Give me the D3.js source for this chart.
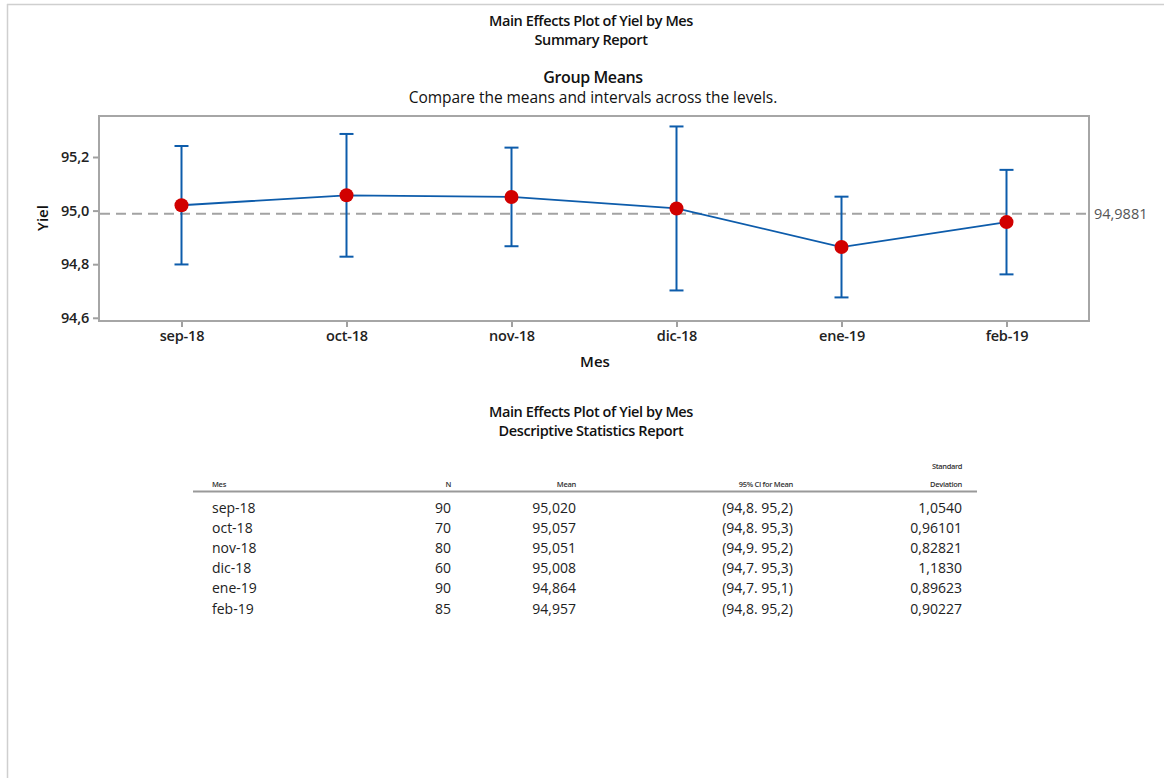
<!DOCTYPE html>
<html>
<head>
<meta charset="utf-8">
<script src="https://cdn.jsdelivr.net/npm/d3@7"></script>
<style>
  html, body { margin: 0; padding: 0; background: #fff; }
  svg { display: block; font-family: "Open Sans", "Noto Sans", sans-serif; }
</style>
</head>
<body>
<svg id="chart" width="1164" height="778"></svg>
<script>
// Months (factor levels) and per-level statistics
const months = ["sep-18", "oct-18", "nov-18", "dic-18", "ene-19", "feb-19"];
const counts = [90, 70, 80, 60, 90, 85];
const means = [95.020, 95.057, 95.051, 95.008, 94.864, 94.957];
const ciLow = [94.799, 94.828, 94.867, 94.702, 94.676, 94.762];
const ciHigh = [95.241, 95.286, 95.235, 95.314, 95.052, 95.152];
const ciText = ["(94,8. 95,2)", "(94,8. 95,3)", "(94,9. 95,2)", "(94,7. 95,3)", "(94,7. 95,1)", "(94,8. 95,2)"];
const stdDevText = ["1,0540", "0,96101", "0,82821", "1,1830", "0,89623", "0,90227"];
const meanText = ["95,020", "95,057", "95,051", "95,008", "94,864", "94,957"];
const grandMean = 94.9881;
const grandMeanText = "94,9881";
const yTicks = [94.6, 94.8, 95.0, 95.2];

const svg = d3.select("#chart");
const comma = v => d3.format(".1f")(v).replace(".", ",");

// Page border (left and top)
svg.append("line").attr("x1", 7.5).attr("x2", 7.5).attr("y1", 4).attr("y2", 778)
  .attr("stroke", "#cfcfcf").attr("stroke-width", 1.5);
svg.append("line").attr("x1", 7).attr("x2", 1164).attr("y1", 4.5).attr("y2", 4.5)
  .attr("stroke", "#cfcfcf").attr("stroke-width", 1.5);

// Text helper
function text(x, y, s, size, weight, anchor, fill) {
  return svg.append("text").attr("x", x).attr("y", y).attr("font-size", size)
    .attr("font-weight", weight).attr("text-anchor", anchor || "middle")
    .attr("dominant-baseline", "central").attr("fill", fill || "#111").text(s);
}

// Report titles
text(591, 20, "Main Effects Plot of Yiel by Mes", 14.5, 600).attr("letter-spacing", -0.4);
text(591, 39, "Summary Report", 14.5, 600).attr("letter-spacing", -0.4);
text(593, 77, "Group Means", 16, 600).attr("letter-spacing", -0.4);
text(593, 97, "Compare the means and intervals across the levels.", 15.5, 400).attr("letter-spacing", -0.05);

// Plot area
const plot = { left: 99, right: 1089, top: 116, bottom: 321 };
const x = d3.scalePoint().domain(months).range([plot.left, plot.right]).padding(0.5);
const y = d3.scaleLinear().domain([94.588, 95.353]).range([plot.bottom, plot.top]);

// Axes
const yAxis = svg.append("g").attr("transform", `translate(${plot.left},0)`)
  .call(d3.axisLeft(y).tickValues(yTicks).tickFormat(comma).tickSize(6).tickPadding(4));
const xAxis = svg.append("g").attr("transform", `translate(0,${plot.bottom})`)
  .call(d3.axisBottom(x).tickSize(6).tickPadding(4));
[yAxis, xAxis].forEach(g => {
  g.select(".domain").remove();
  g.selectAll(".tick line").attr("stroke", "#a0a0a0").attr("stroke-width", 2);
  g.selectAll(".tick text").attr("fill", "#222").attr("font-size", 14.5)
    .attr("font-weight", 600).attr("font-family", "\"Open Sans\", sans-serif")
    .attr("letter-spacing", -0.2);
});

// Frame
svg.append("rect").attr("x", plot.left).attr("y", plot.top)
  .attr("width", plot.right - plot.left).attr("height", plot.bottom - plot.top)
  .attr("fill", "none").attr("stroke", "#a6a6a6").attr("stroke-width", 2);

// Axis titles
text(595, 361, "Mes", 15, 600);
svg.append("text").attr("transform", `translate(42,218) rotate(-90)`)
  .attr("text-anchor", "middle").attr("dominant-baseline", "central")
  .attr("font-size", 15).attr("font-weight", 600).attr("fill", "#111").text("Yiel");

// Grand mean reference line
svg.append("line").attr("x1", plot.left + 1).attr("x2", plot.right - 1)
  .attr("y1", y(grandMean)).attr("y2", y(grandMean))
  .attr("stroke", "#a3a3a3").attr("stroke-width", 2).attr("stroke-dasharray", "10,6");
text(plot.right + 5, y(grandMean), grandMeanText, 14.5, 400, "start", "#555");

// Confidence intervals
const blue = "#0d5cab";
const cap = 7;
months.forEach((m, i) => {
  const cx = x(m);
  svg.append("line").attr("x1", cx).attr("x2", cx).attr("y1", y(ciLow[i])).attr("y2", y(ciHigh[i]))
    .attr("stroke", blue).attr("stroke-width", 2);
  [ciLow[i], ciHigh[i]].forEach(v => {
    svg.append("line").attr("x1", cx - cap).attr("x2", cx + cap).attr("y1", y(v)).attr("y2", y(v))
      .attr("stroke", blue).attr("stroke-width", 2);
  });
});

// Mean connecting line and points
svg.append("path").datum(means)
  .attr("d", d3.line().x((d, i) => x(months[i])).y(d => y(d)))
  .attr("fill", "none").attr("stroke", blue).attr("stroke-width", 1.8);
svg.selectAll("circle.mean").data(means).join("circle").attr("class", "mean")
  .attr("cx", (d, i) => x(months[i])).attr("cy", d => y(d)).attr("r", 7)
  .attr("fill", "#d10000");

// Descriptive statistics report
text(591, 411, "Main Effects Plot of Yiel by Mes", 14.5, 600).attr("letter-spacing", -0.4);
text(591, 430, "Descriptive Statistics Report", 14.5, 600).attr("letter-spacing", -0.4);

const cols = [
  { x: 212, anchor: "start", head: "Mes", vals: months },
  { x: 451, anchor: "end", head: "N", vals: counts.map(String) },
  { x: 576, anchor: "end", head: "Mean", vals: meanText },
  { x: 793, anchor: "end", head: "95% CI for Mean", vals: ciText },
  { x: 962, anchor: "end", head: "Deviation", vals: stdDevText }
];
text(962, 466, "Standard", 7.5, 600, "end", "#333").attr("letter-spacing", -0.4);
cols.forEach(c => {
  text(c.x, 483.5, c.head, 7.5, 600, c.anchor, "#333").attr("letter-spacing", -0.3);
  c.vals.forEach((v, i) => {
    text(c.x, 507 + i * 20.2, v, 14, 400, c.anchor, "#222");
  });
});
svg.append("line").attr("x1", 193).attr("x2", 977).attr("y1", 491.5).attr("y2", 491.5)
  .attr("stroke", "#999").attr("stroke-width", 2);
</script>
</body>
</html>
